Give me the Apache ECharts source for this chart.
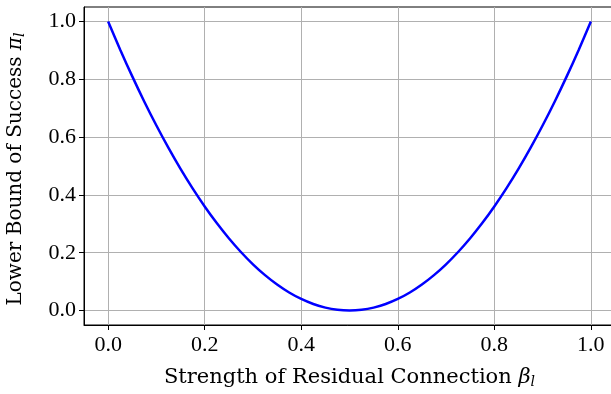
<!DOCTYPE html>
<html><head><meta charset="utf-8">
<script src="https://cdn.jsdelivr.net/npm/echarts@6/dist/echarts.min.js"></script>
<style>html,body{margin:0;padding:0;background:#fff}#c{width:611px;height:394px}</style>
</head><body><div id="c"></div>
<script>
const betaValues = [0.0,0.025,0.05,0.075,0.1,0.125,0.15,0.175,0.2,0.225,0.25,0.275,0.3,0.325,0.35,0.375,0.4,0.425,0.45,0.475,0.5,
  0.525,0.55,0.575,0.6,0.625,0.65,0.675,0.7,0.725,0.75,0.775,0.8,0.825,0.85,0.875,0.9,0.925,0.95,0.975,1.0];
const piValues = [1.0,0.9025,0.81,0.7225,0.64,0.5625,0.49,0.4225,0.36,0.3025,0.25,0.2025,0.16,0.1225,0.09,0.0625,0.04,0.0225,0.01,0.0025,0.0,
  0.0025,0.01,0.0225,0.04,0.0625,0.09,0.1225,0.16,0.2025,0.25,0.3025,0.36,0.4225,0.49,0.5625,0.64,0.7225,0.81,0.9025,1.0];
const xTicks = [0.0,0.2,0.4,0.6,0.8,1.0];
const yTicks = [0.0,0.2,0.4,0.6,0.8,1.0];
const xName = 'Strength of Residual Connection ';
const yName = 'Lower Bound of Success ';

const FONT = 'Liberation Serif';
const TFONT = 'DejaVu Serif';
const FS = 22;
const chart = echarts.init(document.getElementById('c'));
function richFor(size) {
  return {
    n: {fontFamily: TFONT, fontSize: size, color: '#000'},
    i: {fontFamily: TFONT, fontSize: size, fontStyle: 'italic', color: '#000'},
    s: {fontFamily: TFONT, fontSize: 14, fontStyle: 'italic', color: '#000', padding: [8,0,0,0]}
  };
}
chart.setOption({
  animation: false,
  grid: {left: 84, top: 7, right: -4, bottom: 69, show: true, borderColor: '#000', borderWidth: 1, outerBoundsMode: 'none', containLabel: false},
  xAxis: {
    type: 'value', min: -0.05, max: 1.05,
    name: '{n|' + xName + '}{i|β}{s|l}', nameLocation: 'middle', nameGap: 42,
    nameTextStyle: {rich: richFor(21)},
    axisLine: {show: true, onZero: false, lineStyle: {color: '#000', width: 1}},
    axisTick: {show: true, length: 5, customValues: xTicks, lineStyle: {color: '#000'}},
    axisLabel: {customValues: xTicks, fontFamily: FONT, fontSize: FS, color: '#000', margin: 9, formatter: v => v.toFixed(1)},
    splitLine: {show: true, customValues: xTicks, lineStyle: {color: '#b0b0b0', width: 1}}
  },
  yAxis: {
    type: 'value', min: -0.05, max: 1.05,
    name: '{n|' + yName + '}{i|π}{s|l}', nameLocation: 'middle', nameGap: 57,
    nameTextStyle: {rich: richFor(20), padding: [0, 6, 0, 0]},
    axisLine: {show: true, onZero: false, lineStyle: {color: '#000', width: 1}},
    axisTick: {show: true, length: 5, customValues: yTicks, lineStyle: {color: '#000'}},
    axisLabel: {customValues: yTicks, fontFamily: FONT, fontSize: FS, color: '#000', margin: 8, formatter: v => v.toFixed(1)},
    splitLine: {show: true, customValues: yTicks, lineStyle: {color: '#b0b0b0', width: 1}}
  },
  series: [{
    type: 'line', data: betaValues.map((b, k) => [b, piValues[k]]),
    smooth: 0.3, showSymbol: false,
    lineStyle: {color: '#0000ff', width: 2.5}
  }]
});
</script></body></html>
